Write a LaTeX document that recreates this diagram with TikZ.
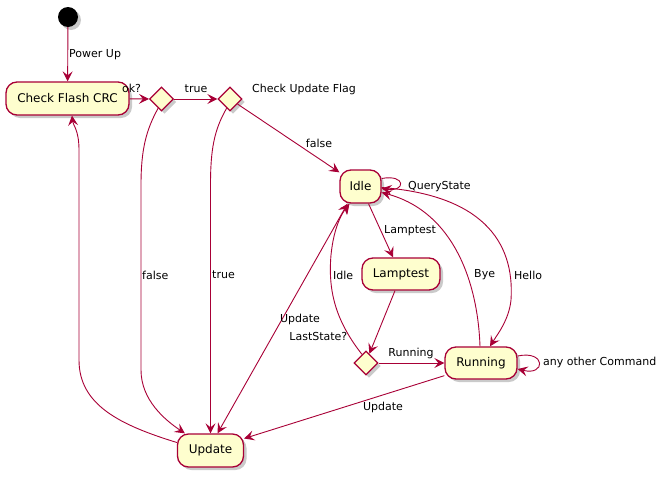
\documentclass[tikz,border=0pt]{standalone}
\usepackage{fontspec}
\setmainfont{DejaVu Sans}
\usetikzlibrary{shapes.geometric,arrows.meta,shadows,calc}
\definecolor{pred}{HTML}{A80036}
\definecolor{pfill}{HTML}{FEFECE}
\tikzset{
  shd/.style={drop shadow={shadow xshift=3pt,shadow yshift=-3pt,opacity=0.35,fill=black!60}},
  statebox/.style={draw=pred,fill=pfill,line width=1.3pt,rounded corners=11pt,shd,
    font=\fontsize{12}{14}\selectfont,inner sep=0pt},
  choice/.style={draw=pred,fill=pfill,line width=1.3pt,diamond,shd,inner sep=0pt,
    minimum width=24pt,minimum height=24pt},
  startdot/.style={circle,fill=black,minimum size=20pt,inner sep=0pt,shd},
  tipp/.tip={Stealth[length=10pt,width=10pt,inset=4pt]},
  edge/.style={draw=pred,line width=0.9pt,-tipp},
  both/.style={draw=pred,line width=0.9pt,tipp-tipp},
  lbl/.style={font=\fontsize{11}{13}\selectfont,inner sep=0pt,text=black},
}
\begin{document}
\begin{tikzpicture}[x=1pt,y=-1pt]
\useasboundingbox (0,0) rectangle (669,477);
% nodes
\node[startdot] (start) at (68,17) {};
\node[statebox,minimum width=123pt,minimum height=33pt] (cfc) at (67.5,98.5) {Check Flash CRC};
\node[choice] (d1) at (161.5,99) {};
\node[choice] (d2) at (230,99) {};
\node[statebox,minimum width=41pt,minimum height=33pt] (idle) at (360.5,186.5) {Idle};
\node[statebox,minimum width=78pt,minimum height=32pt] (lamp) at (401,274) {Lamptest};
\node[choice] (d3) at (366,363) {};
\node[statebox,minimum width=72pt,minimum height=32pt] (running) at (481,363) {Running};
\node[statebox,minimum width=66pt,minimum height=33pt] (update) at (210.5,450.5) {Update};

% edges
\draw[edge] (start) -- (cfc);
\draw[edge] (cfc) -- (d1);
\draw[edge] (d1) -- (d2);
\draw[edge] (d2) -- (idle);
\draw[edge] (d1.250) .. controls (146,130) and (141,150) .. (141,185) -- (141,370)
   .. controls (141,400) and (165,420) .. ($(update.north west)+(8,0)$);
\draw[edge] (d2.250) .. controls (214,130) and (210.5,150) .. (210.5,185) -- (update.north);
\draw[edge] ($(update.west)+(0,-8)$) .. controls (120,425) and (79,405) .. (79,360) -- (79,150)
   .. controls (79,130) and (73,125) .. ($(cfc.south)+(4.5,0)$);
\draw[edge] ($(idle.east)+(0,-8)$) .. controls (406,174) and (406,192) .. ($(idle.east)+(0,2)$);
\draw[edge] ($(idle.south)+(8,0)$) -- ($(lamp.north)+(-8,0)$);
\draw[edge] ($(lamp.south)+(-6,0)$) -- (d3.70);
\draw[edge] (d3) -- (running);
\draw[edge] (d3.115) .. controls (335,320) and (328,290) .. (331,255)
   .. controls (334,225) and (343,212) .. ($(idle.south)+(-11,0)$);
\draw[both] ($(idle.south)+(-13,0)$) -- ($(update.north)+(7,0)$);
\draw[edge] ($(running.north)+(-1,0)$) .. controls (478,285) and (455,212) .. ($(idle.east)+(0,6)$);
\draw[edge] ($(idle.east)+(0,1)$) .. controls (480,195) and (515,240) .. (511,300)
   .. controls (509,320) and (497,335) .. ($(running.north)+(9,0)$);
\draw[edge] ($(running.east)+(0,-7)$) .. controls (546,350) and (546,376) .. ($(running.east)+(0,6)$);
\draw[edge] ($(running.south west)+(0,-4)$) -- ($(update.east)+(0,-12)$);

% labels
\node[lbl,anchor=west] (lpu) at (69,55) {Power Up};
\node[lbl] (lok) at (131.5,88) {ok?};
\node[lbl] (ltrue1) at (196,89) {true};
\node[lbl,anchor=west] (lcuf) at (252,89) {Check Update Flag};
\node[lbl] (lfalse1) at (319,143) {false};
\node[lbl,anchor=west] (lfalse2) at (142,275) {false};
\node[lbl,anchor=west] (ltrue2) at (212,275) {true};
\node[lbl,anchor=west] (lqs) at (408,187) {QueryState};
\node[lbl,anchor=west] (llt) at (384,231) {Lamptest};
\node[lbl,anchor=west] (lidle) at (333,275) {Idle};
\node[lbl,anchor=west] (lbye) at (474,275) {Bye};
\node[lbl,anchor=west] (lhello) at (514,275) {Hello};
\node[lbl] (lupd1) at (300,319) {Update};
\node[lbl,anchor=east] (lls) at (347.5,336) {LastState?};
\node[lbl] (lrun) at (411,353) {Running};
\node[lbl,anchor=west] (laoc) at (543,362) {any other Command};
\node[lbl] (lupd2) at (383,407) {Update};
\end{tikzpicture}
\end{document}
